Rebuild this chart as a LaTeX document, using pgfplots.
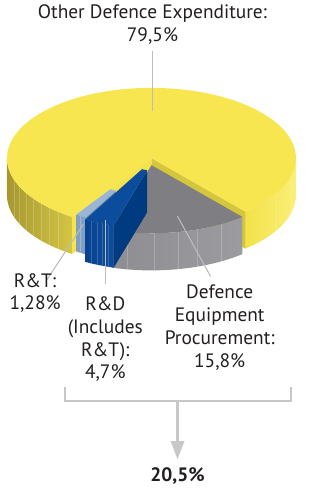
\documentclass[border=0pt]{standalone}
\usepackage{fontspec}
\setmainfont{PT Sans}
\usepackage{pgfplots}
\usepackage{pgfplotstable}
\pgfplotsset{compat=1.18}

\pgfplotstableread{
name value
Other 79.5
Procurement 15.8
RD 4.7
RT 1.28
}\pietable

\definecolor{ytop}{HTML}{F7E64F}
\definecolor{yside1}{HTML}{A69830}
\definecolor{yside2}{HTML}{D4C544}
\definecolor{yside3}{HTML}{F2E24A}
\definecolor{yside4}{HTML}{FBEF78}
\definecolor{ycut1}{HTML}{D6C63C}
\definecolor{ycut2}{HTML}{F4E34C}
\definecolor{gtop}{HTML}{7F7F83}
\definecolor{gside1}{HTML}{8E8E92}
\definecolor{gside2}{HTML}{9C9CA0}
\definecolor{btop}{HTML}{0B4C9C}
\definecolor{bside1}{HTML}{064291}
\definecolor{bside2}{HTML}{0E4C9C}
\definecolor{bcut}{HTML}{003A80}
\definecolor{ltop}{HTML}{9BB6D4}
\definecolor{lside}{HTML}{809FC3}
\definecolor{lcut}{HTML}{7090B6}
\definecolor{lead}{HTML}{BDBDBD}
\definecolor{brk}{HTML}{C8C8C8}
\definecolor{txt}{HTML}{231F20}

% geometry (axis units = reference pixels, y upwards)
\def\cx{154}\def\cy{329}\def\R{144}\def\ry{70}
\def\ox{0}\def\oy{0}
\newcommand\PP[3]{(axis cs:{\cx+\ox+(#2)*\R*cos(#1)},{\cy+\oy+(#3)+(#2)*\ry*sin(#1)})}
% wall: b1 b2 r ztop zbot shadeopts
\newcommand\wall[6]{%
  \pgfmathsetmacro\xr{#3*108}\pgfmathsetmacro\yr{#3*52.5}%
  \shade[#6] \PP{#1}{#3}{#4} arc[start angle=#1,end angle=#2,x radius=\xr pt,y radius=\yr pt]
    -- \PP{#2}{#3}{#5} arc[start angle=#2,end angle=#1,x radius=\xr pt,y radius=\yr pt] -- cycle;}
% stripes on a wall: list of angles, r, ztop, zbot, opacity
\newcommand\stripes[5]{%
  \foreach \s in {#1}{\draw[white, line width=0.4pt, opacity=#5] \PP{\s}{#2}{#3} -- \PP{\s}{#2}{#4};}}
% top: a1 a2 r0 r z color
\newcommand\toparc[6]{%
  \pgfmathsetmacro\xr{#4*108}\pgfmathsetmacro\yr{#4*52.5}%
  \pgfmathsetmacro\xri{#3*108}\pgfmathsetmacro\yri{#3*52.5}%
  \ifdim #3pt=0pt
  \fill[#6] \PP{#1}{#4}{#5} arc[start angle=#1,end angle=#2,x radius=\xr pt,y radius=\yr pt]
    -- \PP{0}{0}{#5} -- cycle;
  \else
  \fill[#6] \PP{#1}{#4}{#5} arc[start angle=#1,end angle=#2,x radius=\xr pt,y radius=\yr pt]
    -- \PP{#2}{#3}{#5} arc[start angle=#2,end angle=#1,x radius=\xri pt,y radius=\yri pt] -- cycle;
  \fi}
% cut face: a r0 r ztop zbot color
\newcommand\cutface[6]{%
  \fill[#6] \PP{#1}{#2}{#4} -- \PP{#1}{#3}{#4} -- \PP{#1}{#3}{#5} -- \PP{#1}{#2}{#5} -- cycle;}

\begin{document}
\begin{tikzpicture}
\pgfplotstablegetelem{0}{value}\of\pietable \let\vOther\pgfplotsretval
\pgfplotstablegetelem{1}{value}\of\pietable \let\vProc\pgfplotsretval
\pgfplotstablegetelem{2}{value}\of\pietable \let\vRD\pgfplotsretval
\pgfplotstablegetelem{3}{value}\of\pietable \let\vRT\pgfplotsretval
\pgfmathsetmacro\aStart{-49.5}
\pgfmathsetmacro\aOtherEnd{\aStart+3.6*\vOther}
\pgfmathsetmacro\aProc{\aStart-3.6*\vProc}
\pgfmathsetmacro\aRD{\aProc-3.6*\vRD}
\pgfmathsetmacro\aRT{\aRD+3.6*\vRT}
\begin{axis}[
  width=224.25pt, height=366.75pt, scale only axis,
  xmin=0, xmax=299, ymin=0, ymax=489,
  hide axis, clip=false]
\pgfplotsextra{%
% ---- yellow slice (Other)
\def\ox{0}\def\oy{0}%
\wall{180}{\aOtherEnd}{1}{0}{-37}{left color=yside1,right color=yside2}%
\stripes{198,204,210,215,220,225,230}{1}{0}{-37}{0.2}%
\wall{\aStart}{0}{1}{0}{-37}{left color=yside3,right color=yside4}%
\stripes{-30,-14}{1}{0}{-37}{0.15}%
\cutface{\aStart}{0}{1}{0}{-37}{ycut1}%
\cutface{\aOtherEnd}{0}{1}{0}{-37}{ycut2}%
\toparc{\aStart}{\aOtherEnd}{0}{1}{0}{ytop}%
% ---- light blue (R&T)
\def\ox{1}\def\oy{0}%
\wall{\aRD}{\aRT}{0.96}{0}{-37}{left color=lside,right color=lside}%
\stripes{-121.5}{0.96}{0}{-37}{0.25}%
\cutface{\aRT}{0.53}{0.96}{0}{-37}{lcut}%
\toparc{\aRD}{\aRT}{0.53}{0.96}{0}{ltop}%
% ---- grey (Procurement)
\def\ox{0}\def\oy{-4}%
\wall{\aProc}{\aStart}{0.97}{-3}{-40}{left color=gside1,right color=gside2}%
\stripes{-100,-89,-79,-71,-60}{0.97}{-3}{-40}{0.2}%
\toparc{\aProc}{\aStart}{0}{0.97}{-3}{gtop}%
% ---- blue (R&D excl. R&T)
\def\ox{3}\def\oy{0}%
\wall{\aRT}{\aProc}{1}{0}{-42}{left color=bside1,right color=bside2}%
\stripes{-116,-113.5,-111,-108.5}{1}{0}{-42}{0.2}%
\cutface{\aProc}{0.18}{1}{0}{-42}{bcut}%
\toparc{\aRT}{\aProc}{0.18}{1}{0}{btop}%
}
% ---- leader lines
\draw[lead, line width=0.8pt] (axis cs:155,436) -- (axis cs:155,376);
\draw[lead, line width=0.8pt] (axis cs:50,208) -- (axis cs:86,263);
\draw[lead, line width=0.8pt] (axis cs:108,204) -- (axis cs:108,267);
\draw[lead, line width=0.8pt] (axis cs:213,211) -- (axis cs:180,271);
% ---- labels
\node[txt, align=center, font=\fontsize{14.5}{17}\selectfont] at (axis cs:155,462.5) {Other Defence Expenditure:\\79,5\%};
\node[txt, align=center, font=\fontsize{14.5}{17}\selectfont] at (axis cs:38,194.5) {R\&T:\\1,28\%};
\node[txt, align=center, font=\fontsize{14.5}{17}\selectfont] at (axis cs:108,148.5) {R\&D\\(Includes\\R\&T):\\4,7\%};
\node[txt, align=center, font=\fontsize{14.5}{17}\selectfont] at (axis cs:222,160) {Defence\\Equipment\\Procurement:\\15,8\%};
% ---- bracket and arrow
\draw[brk, line width=1.9pt] (axis cs:68,101) -- (axis cs:68,87) -- (axis cs:293,87) -- (axis cs:293,101);
\draw[brk, line width=1.9pt] (axis cs:180,87) -- (axis cs:180,44);
\fill[brk] (axis cs:173,47) -- (axis cs:187,47) -- (axis cs:180,29) -- cycle;
\node[txt, font=\fontsize{14.5}{17}\selectfont\bfseries] at (axis cs:180,12) {20,5\%};
\end{axis}
\end{tikzpicture}
\end{document}
